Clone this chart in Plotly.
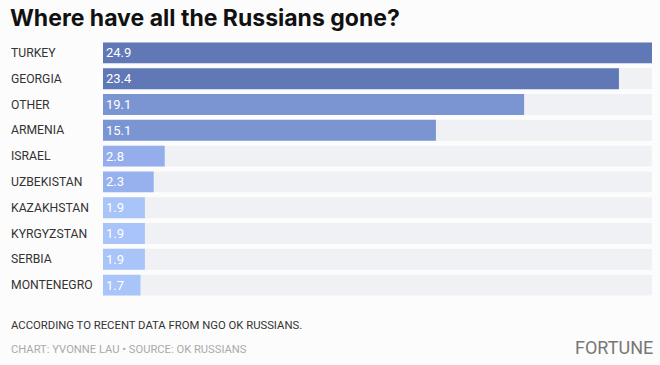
import plotly.graph_objects as go

countries = ["TURKEY", "GEORGIA", "OTHER", "ARMENIA", "ISRAEL", "UZBEKISTAN",
             "KAZAKHSTAN", "KYRGYZSTAN", "SERBIA", "MONTENEGRO"]
values = [24.9, 23.4, 19.1, 15.1, 2.8, 2.3, 1.9, 1.9, 1.9, 1.7]
bar_colors = ["#6078b6", "#6078b6", "#7b95d3", "#7b95d3", "#95aeeb", "#97b1ee",
              "#a8c4f8", "#a8c4f8", "#a8c4f8", "#a8c4f8"]

title = "Where have all the Russians gone?"
note = "ACCORDING TO RECENT DATA FROM NGO OK RUSSIANS."
credit = "CHART: YVONNE LAU • SOURCE: OK RUSSIANS"
brand = "FORTUNE"

vmax = max(values)
W, H = 660, 365
ml, mr, mt, mb = 103, 8, 40, 67
pw = W - ml - mr

fig = go.Figure()
fig.add_trace(go.Bar(
    y=countries, x=[vmax] * len(values), orientation="h",
    marker=dict(color="#f0f1f4", line=dict(width=0)),
    hoverinfo="skip", showlegend=False,
))
fig.add_trace(go.Bar(
    y=countries, x=values, orientation="h",
    marker=dict(color=bar_colors, line=dict(width=0)),
    text=[f"{v:.1f}" for v in values], textposition="inside",
    insidetextanchor="start", constraintext="none",
    textfont=dict(family="Roboto", size=13, color="white"),
    showlegend=False,
))

annotations = []
for c in countries:
    annotations.append(dict(
        x=-(ml - 9) / pw, xref="paper", y=c, yref="y", text=c,
        showarrow=False, xanchor="left", yanchor="middle",
        font=dict(family="Roboto", size=12.2, color="#333333"),
    ))

def px(xp, yp):
    return (xp - ml) / pw, (H - mb - yp) / (H - mt - mb)

tx, ty = px(8, 18)
annotations.append(dict(x=tx, y=ty, xref="paper", yref="paper", text="<b>" + title + "</b>",
                        showarrow=False, xanchor="left", yanchor="middle",
                        font=dict(family="Inter", size=23, color="#111111", weight=900)))
nx, ny = px(9, 325)
annotations.append(dict(x=nx, y=ny, xref="paper", yref="paper", text=note,
                        showarrow=False, xanchor="left", yanchor="middle",
                        font=dict(family="Roboto", size=11.3, color="#333333")))
cx, cy = px(9, 349)
annotations.append(dict(x=cx, y=cy, xref="paper", yref="paper", text=credit,
                        showarrow=False, xanchor="left", yanchor="middle",
                        font=dict(family="Roboto", size=11.2, color="#aaaaaa")))
fx, fy = px(655, 347)
annotations.append(dict(x=fx, y=fy, xref="paper", yref="paper", text=brand,
                        showarrow=False, xanchor="right", yanchor="middle",
                        font=dict(family="Roboto", size=18, color="#777777")))

fig.update_layout(
    width=W, height=H,
    margin=dict(l=ml, r=mr, t=mt, b=mb),
    paper_bgcolor="#fcfcfc", plot_bgcolor="#fcfcfc",
    barmode="overlay", bargap=0.19,
    xaxis=dict(range=[0, vmax], visible=False, fixedrange=True),
    yaxis=dict(autorange="reversed", showticklabels=False, showgrid=False,
               zeroline=False, fixedrange=True),
    annotations=annotations,
)
fig.write_html("out.html", config={"displayModeBar": False},
               post_script="document.body.style.margin='0';")
